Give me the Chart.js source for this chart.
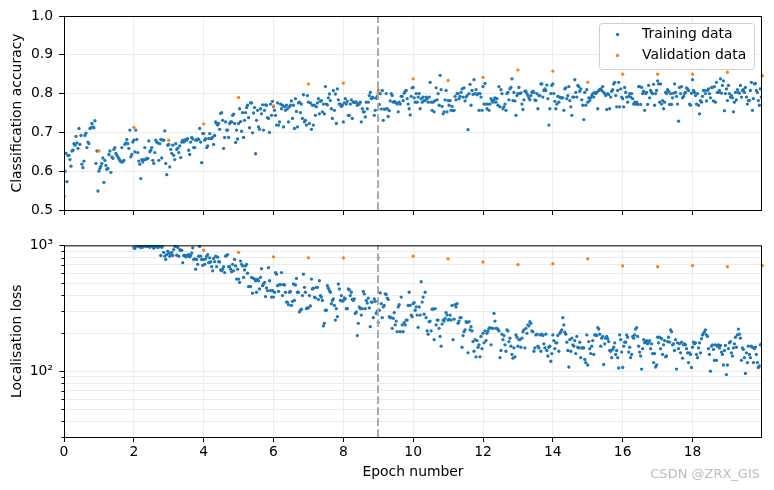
<!DOCTYPE html>
<html>
<head>
<meta charset="utf-8">
<script src="https://cdn.jsdelivr.net/npm/chart.js@4.4.1/dist/chart.umd.min.js"></script>
<style>
    body { margin: 0; background: #fff; }
    #wrap { position: relative; width: 774px; height: 490px; }
    canvas { position: absolute; left: 0; }
    #graficoAcc { top: 0; }
    #graficoLoss { top: 226px; }
    .marca { position: absolute; right: 14px; top: 466px; font: 13px "DejaVu Sans", sans-serif; color: #bcbcbc; }
</style>
</head>
<body>
<div id="wrap">
    <canvas id="graficoAcc" width="774" height="226"></canvas>
    <canvas id="graficoLoss" width="774" height="264"></canvas>
    <div class="marca">CSDN @ZRX_GIS</div>
</div>
<script>
// ========== DADOS ==========

const itersPerEpoch = 35;      // pontos de treino por época
const lossFirstEpoch = 2;      // antes disso a perda fica acima de 10^3
const dividerEpoch = 9;        // linha tracejada

const epochTicks = [0, 2, 4, 6, 8, 10, 12, 14, 16, 18];
const accTicks = [0.5, 0.6, 0.7, 0.8, 0.9, 1.0];
const lossTicks = [30, 40, 50, 60, 70, 80, 90, 100, 200, 300, 400, 500, 600, 700, 800, 900, 1000];
const lossLabels = { 100: '10²', 1000: '10³' };

const valEpochs = [1, 2, 3, 4, 5, 6, 7, 8, 9, 10, 11, 12, 13, 14, 15, 16, 17, 18, 19, 20];
const valAcc = [0.652, 0.713, 0.680, 0.722, 0.790, 0.768, 0.825, 0.827, 0.808, 0.838,
                0.834, 0.842, 0.861, 0.858, 0.829, 0.850, 0.850, 0.850, 0.855, 0.846];

const valLossEpochs = [4, 5, 6, 7, 8, 9, 10, 11, 12, 13, 14, 15, 16, 17, 18, 19, 20];
const valLoss = [914, 880, 811, 796, 796, 796, 820, 782, 737, 702, 715, 782, 686, 677, 690, 677, 690];

// acurácia de treino, uma linha por época
const trainAcc = [
    0.535,0.600,0.646,0.573,0.640,0.641,0.630,0.613,0.652,0.654,0.671,0.667,0.690,0.673,0.659,0.710,0.669,0.692,0.618,0.609,0.626,0.692,0.698,0.661,0.675,0.671,0.710,0.712,0.723,0.714,0.712,0.730,0.620,0.652,0.549,
    0.600,0.607,0.613,0.620,0.634,0.571,0.628,0.615,0.605,0.607,0.643,0.652,0.597,0.637,0.633,0.656,0.661,0.646,0.641,0.637,0.633,0.628,0.624,0.661,0.624,0.628,0.669,0.673,0.682,0.671,0.659,0.706,0.637,0.643,0.675,
    0.680,0.650,0.706,0.682,0.648,0.626,0.618,0.581,0.630,0.624,0.630,0.661,0.630,0.633,0.633,0.678,0.650,0.654,0.661,0.628,0.620,0.648,0.680,0.675,0.673,0.628,0.671,0.682,0.634,0.680,0.680,0.704,0.620,0.591,0.667,
    0.669,0.611,0.656,0.646,0.667,0.641,0.630,0.671,0.656,0.659,0.648,0.665,0.635,0.675,0.680,0.675,0.678,0.682,0.680,0.684,0.654,0.643,0.675,0.687,0.683,0.661,0.661,0.680,0.680,0.683,0.682,0.710,0.675,0.622,0.697,
    0.697,0.680,0.684,0.661,0.665,0.684,0.697,0.684,0.684,0.688,0.669,0.692,0.727,0.723,0.719,0.723,0.708,0.749,0.751,0.731,0.659,0.687,0.727,0.706,0.706,0.687,0.723,0.727,0.727,0.744,0.747,0.723,0.674,0.706,0.683,
    0.723,0.761,0.728,0.703,0.751,0.687,0.731,0.751,0.764,0.770,0.738,0.712,0.776,0.776,0.699,0.750,0.764,0.645,0.731,0.757,0.714,0.708,0.761,0.748,0.771,0.706,0.757,0.771,0.770,0.738,0.736,0.700,0.773,0.744,0.780,
    0.766,0.757,0.744,0.719,0.776,0.719,0.727,0.773,0.761,0.770,0.714,0.766,0.757,0.770,0.761,0.727,0.766,0.770,0.781,0.736,0.770,0.710,0.787,0.754,0.714,0.776,0.778,0.751,0.773,0.736,0.797,0.727,0.731,0.719,0.795,
    0.778,0.723,0.776,0.708,0.770,0.719,0.770,0.744,0.766,0.776,0.787,0.748,0.780,0.782,0.753,0.773,0.748,0.818,0.773,0.771,0.789,0.799,0.782,0.761,0.736,0.808,0.757,0.799,0.723,0.812,0.784,0.773,0.773,0.767,0.770,
    0.727,0.776,0.787,0.773,0.780,0.744,0.744,0.773,0.784,0.736,0.778,0.778,0.778,0.778,0.770,0.773,0.773,0.778,0.727,0.761,0.753,0.753,0.740,0.778,0.761,0.778,0.795,0.803,0.787,0.791,0.789,0.744,0.757,0.788,0.793,
    0.800,0.772,0.800,0.760,0.808,0.731,0.760,0.760,0.800,0.761,0.741,0.756,0.781,0.800,0.795,0.778,0.780,0.778,0.776,0.773,0.753,0.778,0.773,0.793,0.793,0.782,0.801,0.806,0.808,0.787,0.773,0.761,0.745,0.793,0.815,
    0.816,0.789,0.778,0.800,0.778,0.791,0.800,0.761,0.787,0.778,0.791,0.782,0.782,0.791,0.787,0.778,0.791,0.829,0.778,0.757,0.778,0.753,0.782,0.815,0.784,0.800,0.770,0.847,0.810,0.767,0.748,0.753,0.784,0.808,0.753,
    0.782,0.770,0.782,0.757,0.767,0.756,0.757,0.793,0.784,0.800,0.800,0.787,0.793,0.803,0.812,0.791,0.815,0.781,0.791,0.795,0.707,0.800,0.824,0.770,0.808,0.798,0.836,0.800,0.810,0.797,0.800,0.757,0.800,0.791,0.757,
    0.818,0.773,0.826,0.773,0.761,0.773,0.757,0.773,0.787,0.782,0.778,0.784,0.789,0.778,0.787,0.770,0.818,0.766,0.810,0.800,0.761,0.766,0.773,0.757,0.800,0.803,0.784,0.812,0.816,0.838,0.782,0.803,0.781,0.744,0.795,
    0.800,0.816,0.800,0.802,0.773,0.759,0.784,0.806,0.806,0.800,0.795,0.789,0.784,0.795,0.803,0.806,0.803,0.784,0.782,0.800,0.761,0.795,0.795,0.825,0.825,0.791,0.808,0.812,0.808,0.822,0.787,0.719,0.761,0.800,0.821,
    0.825,0.800,0.780,0.761,0.773,0.793,0.778,0.791,0.789,0.789,0.789,0.757,0.812,0.815,0.787,0.795,0.818,0.782,0.766,0.744,0.791,0.791,0.836,0.803,0.791,0.821,0.818,0.806,0.812,0.784,0.770,0.733,0.803,0.770,0.810,
    0.778,0.789,0.782,0.789,0.795,0.800,0.791,0.803,0.800,0.803,0.761,0.808,0.810,0.812,0.808,0.818,0.803,0.800,0.795,0.759,0.800,0.798,0.761,0.791,0.806,0.810,0.825,0.829,0.795,0.766,0.808,0.829,0.766,0.812,0.791,
    0.787,0.766,0.816,0.803,0.791,0.778,0.793,0.800,0.791,0.800,0.787,0.773,0.778,0.773,0.778,0.772,0.818,0.818,0.772,0.816,0.800,0.806,0.757,0.800,0.803,0.772,0.821,0.789,0.808,0.803,0.800,0.824,0.770,0.800,0.808,
    0.833,0.825,0.778,0.825,0.773,0.782,0.761,0.778,0.803,0.800,0.810,0.806,0.772,0.800,0.772,0.789,0.801,0.825,0.803,0.793,0.773,0.729,0.816,0.800,0.818,0.789,0.793,0.800,0.803,0.815,0.812,0.808,0.773,0.770,0.801,
    0.836,0.808,0.803,0.795,0.773,0.800,0.770,0.748,0.782,0.778,0.793,0.808,0.808,0.800,0.781,0.808,0.812,0.800,0.789,0.816,0.816,0.781,0.818,0.778,0.829,0.803,0.803,0.808,0.838,0.801,0.821,0.833,0.756,0.800,0.812,
    0.782,0.821,0.800,0.791,0.795,0.789,0.753,0.778,0.803,0.784,0.810,0.803,0.801,0.821,0.791,0.808,0.810,0.803,0.816,0.791,0.773,0.782,0.782,0.808,0.829,0.757,0.787,0.825,0.826,0.808,0.803,0.782,0.770,0.812,0.791
];

// perda de localização de treino, a partir da época 2
const trainLoss = [
    960,945,1010,985,1020,975,990,960,1000,970,985,1005,990,975,985,1010,965,990,1000,985,950,975,990,1000,960,970,985,830,965,1000,880,820,773,845,900,
    870,820,845,880,830,925,985,980,835,965,820,925,910,915,728,830,830,810,830,820,845,810,830,870,955,773,780,646,773,707,820,980,820,773,694,
    773,707,782,820,845,728,796,737,677,627,787,741,820,677,806,741,737,638,627,646,677,608,820,830,845,677,677,646,616,707,627,773,686,539,646,
    539,508,750,707,686,556,638,686,707,600,470,470,470,556,417,546,539,523,424,539,523,450,556,653,478,493,508,392,459,437,665,523,437,388,437,
    388,424,608,590,478,430,487,487,608,399,487,484,424,354,354,338,424,430,333,359,493,365,484,546,424,424,296,305,311,399,590,464,424,314,318,
    318,399,330,539,450,456,388,383,464,464,372,523,399,388,365,229,240,305,305,478,456,437,424,344,365,376,333,255,314,271,493,450,365,399,360,
    365,383,376,314,314,450,443,399,424,372,365,376,288,296,192,240,324,314,279,314,430,411,314,365,348,381,318,226,354,354,266,376,359,288,300,
    244,305,419,344,266,324,333,411,407,381,372,271,266,266,219,263,292,233,250,206,324,338,206,388,233,206,243,233,255,255,333,424,333,279,271,
    344,350,305,324,279,223,324,279,514,354,388,284,424,266,209,197,247,250,209,311,311,178,314,233,255,255,219,189,158,237,255,250,263,292,279,
    255,258,279,255,333,178,259,338,324,344,240,250,266,266,155,192,206,213,247,244,140,247,213,226,209,172,144,178,130,175,155,162,130,189,151,
    200,168,209,175,200,209,219,222,162,219,219,288,250,219,219,215,209,128,146,197,178,192,162,144,213,209,172,183,158,136,127,153,130,194,186,
    158,178,178,155,183,206,213,153,219,200,233,229,247,240,209,206,144,153,194,197,158,153,194,144,197,192,165,153,197,146,132,155,158,120,138,
    194,175,151,168,168,192,144,200,206,213,266,233,204,197,170,146,108,178,144,183,162,158,175,138,189,155,153,170,128,153,153,153,124,117,194,
    112,172,151,138,158,175,136,194,194,192,222,216,197,158,183,189,113,165,183,189,181,172,146,144,128,149,155,168,136,146,128,106,194,178,142,
    107,158,170,170,194,186,142,155,128,136,189,183,194,216,222,189,158,142,132,104,151,178,168,172,175,165,170,175,151,165,138,117,138,108,112,
    186,168,186,151,181,136,162,175,130,132,172,186,170,213,206,162,165,146,178,104,168,151,165,140,170,127,162,165,162,151,140,117,140,136,107,
    155,170,165,168,136,128,153,168,140,181,194,200,206,213,194,189,151,136,100,158,162,149,122,162,122,158,162,153,160,142,136,112,146,160,94,
    112,151,168,172,140,132,153,165,186,155,194,216,197,183,122,153,149,128,96,140,117,158,136,128,158,155,117,151,155,136,117,107,110,162,165
];

// ========== CONFIGURAÇÃO COMUM ==========

const fonte = { family: '"DejaVu Sans", sans-serif', size: 13.9 };
const corGrade = '#ebebeb';
const azul = '#1f77b4', laranja = '#ff7f0e';
const raio = 1.65;

function eixoX(comRotulos) {
    return {
        type: 'linear', min: 0, max: 19.99,
        afterBuildTicks: s => { s.ticks = epochTicks.map(v => ({ value: v })); },
        afterFit: s => { s.height = comRotulos ? 53 : 16; },
        grid: { color: corGrade, tickColor: '#000', tickLength: 5 },
        border: { display: false },
        ticks: { padding: 2, font: fonte, color: '#000', autoSkip: false, maxRotation: 0,
                 callback: v => comRotulos ? String(v) : '' },
        title: { display: comRotulos, text: 'Epoch number', font: fonte, color: '#000',
                 padding: { top: 0, bottom: 9.7 } }
    };
}

function pontos(valores, inicio) {
    return valores.map((v, i) => ({ x: inicio + i / itersPerEpoch, y: v }));
}

function serie(label, data, cor, ordem, clip) {
    return { label, data, pointBackgroundColor: cor, backgroundColor: cor, pointRadius: raio,
             pointBorderWidth: 0, pointHoverRadius: raio, order: ordem, clip };
}

// moldura, linha tracejada e ticks menores do eixo log
const moldura = {
    id: 'moldura',
    afterDatasetsDraw(chart) {
        const { ctx, chartArea: a, scales } = chart;
        const x = Math.round(scales.x.getPixelForValue(dividerEpoch));
        ctx.save();
        ctx.strokeStyle = '#aaaaaa';
        ctx.lineWidth = 2;
        ctx.setLineDash([7.7, 3.3]);
        ctx.beginPath();
        ctx.moveTo(x, a.bottom);
        ctx.lineTo(x, a.top);
        ctx.stroke();
        ctx.restore();
    },
    afterDraw(chart) {
        const { ctx, chartArea: a, scales } = chart;
        ctx.save();
        ctx.strokeStyle = '#000';
        ctx.lineWidth = 1;
        ctx.strokeRect(a.left + 0.5, a.top + 0.5, a.right - a.left - 1, a.bottom - a.top);
        if (scales.y.type === 'logarithmic') {
            lossTicks.forEach(v => {
                const y = Math.round(scales.y.getPixelForValue(v)) + 0.5;
                const len = lossLabels[v] ? 5 : 3;
                ctx.beginPath();
                ctx.moveTo(a.left + 0.5 - len, y);
                ctx.lineTo(a.left + 0.5, y);
                ctx.stroke();
            });
        }
        ctx.restore();
    }
};

// legenda no estilo matplotlib (canto superior direito)
const legenda = {
    id: 'legenda',
    afterDraw(chart) {
        const ctx = chart.ctx;
        const itens = [['Training data', azul], ['Validation data', laranja]];
        const bx = 599, by = 23, bw = 155, bh = 46;
        ctx.save();
        ctx.beginPath();
        ctx.roundRect(bx + 0.5, by + 0.5, bw, bh, 3);
        ctx.fillStyle = 'rgba(255,255,255,0.8)';
        ctx.fill();
        ctx.strokeStyle = '#d0d0d0';
        ctx.lineWidth = 1;
        ctx.stroke();
        ctx.font = '13.9px "DejaVu Sans", sans-serif';
        ctx.textBaseline = 'middle';
        itens.forEach(([txt, cor], i) => {
            const y = 34.5 + i * 21;
            ctx.fillStyle = cor;
            ctx.beginPath();
            ctx.arc(617.5, y, raio, 0, Math.PI * 2);
            ctx.fill();
            ctx.fillStyle = '#000';
            ctx.fillText(txt, 642, y);
        });
        ctx.restore();
    }
};

const baseOpcoes = {
    responsive: false,
    animation: false,
    devicePixelRatio: 1,
    events: [],
    layout: { padding: { top: 16, right: 12, bottom: 0, left: 0 } },
    plugins: { legend: { display: false }, tooltip: { enabled: false } }
};

// ========== GRÁFICO: ACURÁCIA ==========

new Chart(document.getElementById('graficoAcc'), {
    type: 'scatter',
    data: {
        datasets: [
            serie('Validation data', valAcc.map((v, i) => ({ x: valEpochs[i], y: v })), laranja, 0,
                  { left: 0, top: 0, right: 2, bottom: 0 }),
            serie('Training data', pontos(trainAcc, 0), azul, 1, 0)
        ]
    },
    options: {
        ...baseOpcoes,
        scales: {
            x: eixoX(false),
            y: {
                type: 'linear', min: 0.5, max: 1.0,
                afterBuildTicks: s => { s.ticks = accTicks.map(v => ({ value: v })); },
                afterFit: s => { s.width = 64; },
                grid: { color: corGrade, tickColor: '#000', tickLength: 5 },
                border: { display: false },
                ticks: { padding: 6, font: fonte, color: '#000', callback: v => v.toFixed(1) },
                title: { display: true, text: 'Classification accuracy', font: fonte, color: '#000',
                         padding: { top: 9.5, bottom: 0 } }
            }
        }
    },
    plugins: [moldura, legenda]
});

// ========== GRÁFICO: PERDA DE LOCALIZAÇÃO ==========

new Chart(document.getElementById('graficoLoss'), {
    type: 'scatter',
    data: {
        datasets: [
            serie('Validation data', valLoss.map((v, i) => ({ x: valLossEpochs[i], y: v })), laranja, 0,
                  { left: 0, top: 0, right: 2, bottom: 0 }),
            serie('Training data', pontos(trainLoss, lossFirstEpoch), azul, 1, 0)
        ]
    },
    options: {
        ...baseOpcoes,
        scales: {
            x: eixoX(true),
            y: {
                type: 'logarithmic', min: 30, max: 1000,
                afterBuildTicks: s => { s.ticks = lossTicks.map(v => ({ value: v, major: !!lossLabels[v] })); },
                afterFit: s => { s.width = 64; },
                grid: { color: corGrade, drawTicks: false },
                border: { display: false },
                ticks: { padding: 11, font: fonte, color: '#000', autoSkip: false,
                         callback: v => lossLabels[v] || '' },
                title: { display: true, text: 'Localisation loss', font: fonte, color: '#000',
                         padding: { top: 9.5, bottom: 0 } }
            }
        }
    },
    plugins: [moldura]
});
</script>
</body>
</html>
